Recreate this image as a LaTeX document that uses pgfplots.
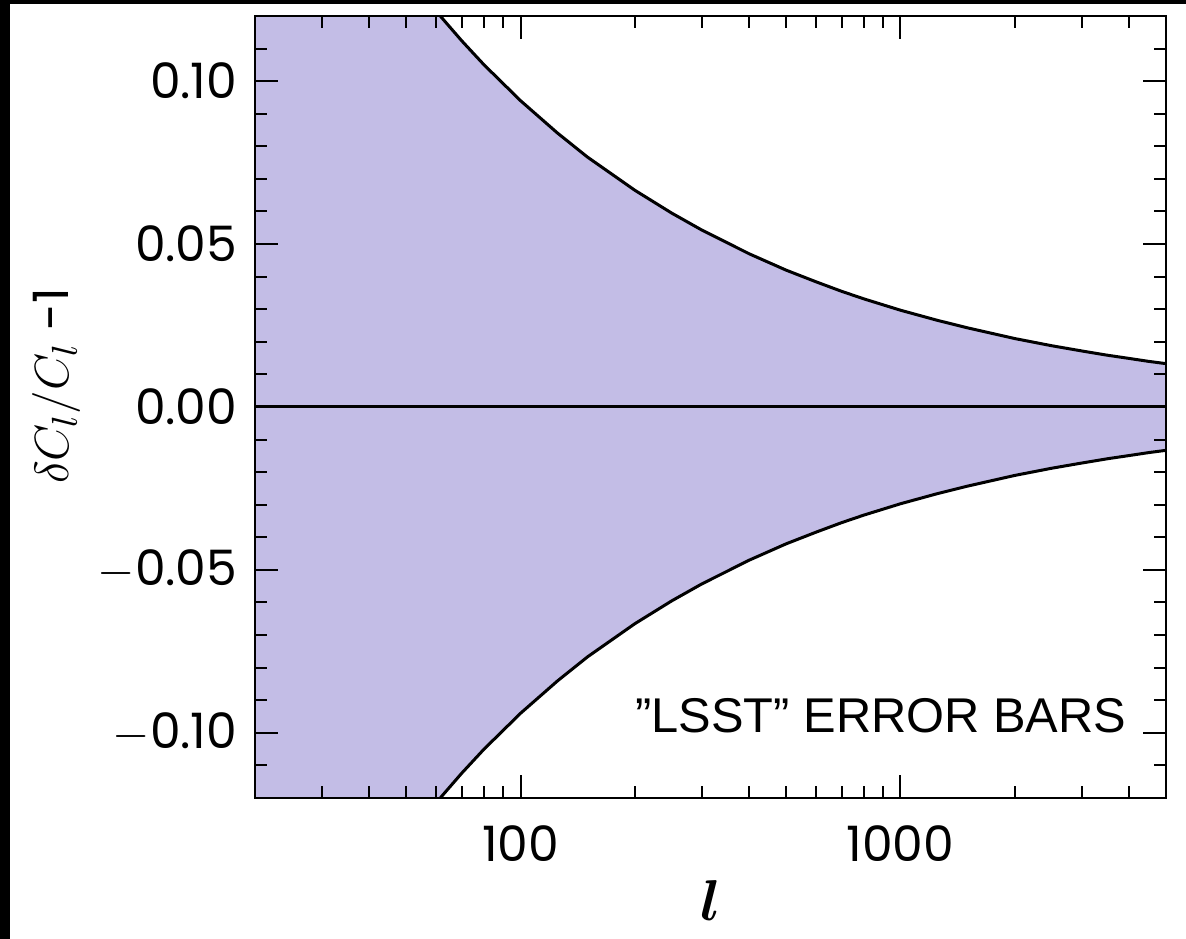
\documentclass[border=0pt]{standalone}
\usepackage{fontspec}
\setmainfont{Poppins}
\newfontfamily\arialfont{Liberation Sans}
\usepackage{bm}
\usepackage{pgfplots}
\usepackage{pgfplotstable}
\pgfplotsset{compat=1.18}
\definecolor{lav}{RGB}{195,189,230}

% edges of the band
\pgfplotstableread{
l     up       lo
20    0.2102   -0.2102
30    0.1716   -0.1716
40    0.1486   -0.1486
50    0.1329   -0.1329
60    0.1214   -0.1214
70    0.1124   -0.1124
80    0.1051   -0.1051
100   0.0940   -0.0940
125   0.0841   -0.0841
150   0.0767   -0.0767
200   0.0665   -0.0665
250   0.0595   -0.0595
300   0.0543   -0.0543
400   0.0470   -0.0470
500   0.0420   -0.0420
600   0.0384   -0.0384
700   0.0355   -0.0355
800   0.0332   -0.0332
1000  0.0297   -0.0297
1250  0.0266   -0.0266
1500  0.0243   -0.0243
2000  0.0210   -0.0210
2500  0.0188   -0.0188
3000  0.0172   -0.0172
3500  0.0159   -0.0159
4000  0.0149   -0.0149
4500  0.0140   -0.0140
5000  0.0133   -0.0133
}\band

% outline of the shaded band: upper edge, then lower edge backwards
\pgfplotstableread{
l     v
20    0.2102
30    0.1716
40    0.1486
50    0.1329
60    0.1214
70    0.1124
80    0.1051
100   0.0940
125   0.0841
150   0.0767
200   0.0665
250   0.0595
300   0.0543
400   0.0470
500   0.0420
600   0.0384
700   0.0355
800   0.0332
1000  0.0297
1250  0.0266
1500  0.0243
2000  0.0210
2500  0.0188
3000  0.0172
3500  0.0159
4000  0.0149
4500  0.0140
5000  0.0133
5000  -0.0133
4500  -0.0140
4000  -0.0149
3500  -0.0159
3000  -0.0172
2500  -0.0188
2000  -0.0210
1500  -0.0243
1250  -0.0266
1000  -0.0297
800   -0.0332
700   -0.0355
600   -0.0384
500   -0.0420
400   -0.0470
300   -0.0543
250   -0.0595
200   -0.0665
150   -0.0767
125   -0.0841
100   -0.0940
80    -0.1051
70    -0.1124
60    -0.1214
50    -0.1329
40    -0.1486
30    -0.1716
20    -0.2102
}\poly

\begin{document}
\begin{tikzpicture}
\begin{axis}[
    name=ax,
    scale only axis,
    width=227.75pt, height=195.5pt,
    xmode=log,
    xmin=20, xmax=5000,
    ymin=-0.12, ymax=0.12,
    xtick={100,1000}, xticklabels={100,1000},
    minor xtick={20,30,40,50,60,70,80,90,200,300,400,500,600,700,800,900,2000,3000,4000,5000},
    ytick={-0.1,-0.05,0,0.05,0.1},
    yticklabels={$-$0.10,$-$0.05,0.00,0.05,0.10},
    minor ytick={-0.11,-0.09,-0.08,-0.07,-0.06,-0.04,-0.03,-0.02,-0.01,0.01,0.02,0.03,0.04,0.06,0.07,0.08,0.09,0.11},
    major tick length=5.75pt,
    minor tick length=3pt,
    tick style={line width=0.5pt, black},
    axis line style={line width=0.5pt, black},
    axis on top,
    ticklabel style={font=\fontsize{12.2}{14}\selectfont},
    xticklabel style={anchor=base, yshift=-15.9pt},
    yticklabel style={anchor=east, inner sep=0pt, xshift=-4.25pt},
    xlabel={$\bm{l}$},
    xlabel style={at={(axis description cs:0.5,-0.131)}, anchor=center, font=\fontsize{13.5}{15}\selectfont},
    ylabel={$\delta C_l/C_l$ -1},
    ylabel style={at={(axis description cs:-0.218,0.527)}, anchor=center, font=\fontsize{12.2}{14}\selectfont},
]
\addplot[draw=none, fill=lav] table[x=l, y=v] {\poly};
\addplot[black, line width=0.75pt] table[x=l, y=up] {\band};
\addplot[black, line width=0.75pt] table[x=l, y=lo] {\band};
\addplot[black, line width=0.75pt] coordinates {(20,0) (5000,0)};
\end{axis}
\node[anchor=east, inner sep=0pt, font=\arialfont\fontsize{12.2}{14}\selectfont] at ([xshift=218pt, yshift=20.5pt]ax.south west) {”LSST” ERROR BARS};
\pgfresetboundingbox
\path[use as bounding box] ([xshift=-63.75pt,yshift=-35.25pt]ax.south west) rectangle ([xshift=5pt,yshift=4pt]ax.north east);
\fill[black] ([xshift=-63.75pt,yshift=-35.25pt]ax.south west) rectangle ([xshift=-61.25pt,yshift=4pt]ax.north west);
\fill[black] ([xshift=-63.75pt,yshift=3pt]ax.north west) rectangle ([xshift=5pt,yshift=4pt]ax.north east);
\end{tikzpicture}
\end{document}
